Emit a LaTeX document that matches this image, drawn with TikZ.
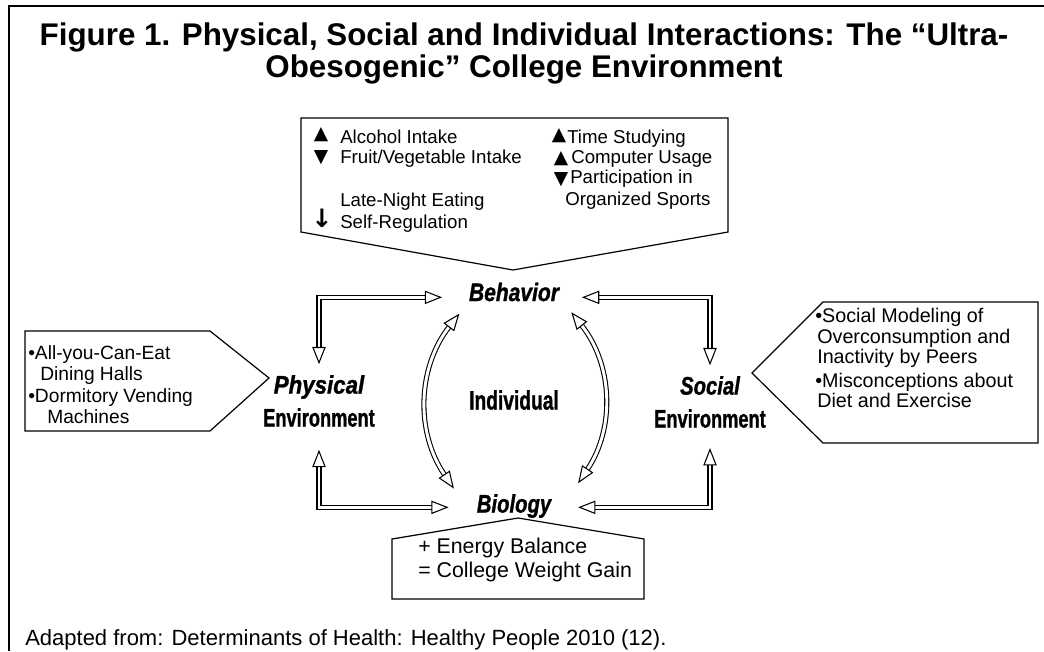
\documentclass[tikz,border=0pt]{standalone}
\usepackage{graphicx}
\usepackage{fontspec}
\setmainfont{Liberation Sans}
\newfontfamily\symfont{DejaVu Sans}
\newfontfamily\lblfont{Liberation Sans Bold}[ItalicFont=Liberation Sans Bold Italic,FakeBold=1.3]
\usepackage{tikz}
\usetikzlibrary{arrows.meta}
\newcommand{\narrowlbl}[2][0.8]{\scalebox{#1}[1]{#2}}

\begin{document}
\begin{tikzpicture}[x=0.75pt,y=0.75pt,yscale=-1,xscale=1,
  lbl/.style={inner sep=0pt,align=center,font=\lblfont\fontsize{19}{24.75}\selectfont},
  txt/.style={anchor=base west,inner sep=0pt,font=\fontsize{14}{16}\selectfont},
  sym/.style={inner sep=0pt,font=\symfont\fontsize{14}{14}\selectfont},
  ttl/.style={anchor=base,inner sep=0pt,font=\fontsize{23.5}{28}\selectfont\bfseries},
  callout/.style={line width=0.9pt,line join=miter},
  dbl/.style={double=white,double distance=2.2pt,line width=0.8pt,
    {Triangle[open,length=13pt,width=10pt,line width=0.8pt]}-{Triangle[open,length=13pt,width=10pt,line width=0.8pt]}}]
\useasboundingbox (0,0) rectangle (1044,651);

%Straight Lines
\draw [line width=1.4pt]  (1044,6) -- (9,6) -- (9,651) ;

% Text Node
\draw (524,45) node [ttl] (title1) {Figure 1. Physical, Social and Individual Interactions: The “Ultra-};
% Text Node
\draw (524,77) node [ttl] (title2) {Obesogenic” College Environment};

%Shape: Pentagon
\draw [callout]  (301,118) -- (728,118) -- (728,232) -- (513,270) -- (301,232) -- cycle ;
%Shape: Pentagon
\draw [callout]  (25,331) -- (210,331) -- (269,378) -- (210,431) -- (25,431) -- cycle ;
%Shape: Pentagon
\draw [callout]  (823,302) -- (1038,302) -- (1038,443) -- (823,443) -- (752,373) -- cycle ;
%Shape: Pentagon
\draw [callout]  (518,518) -- (644,539) -- (644,599) -- (392,599) -- (392,539) -- cycle ;

% Text Node
\draw (321,135) node [sym] (up1) {▲};
% Text Node
\draw (321,158) node [sym] (dn1) {▼};
% Text Node
\draw (322,218) node [sym,font=\symfont\bfseries\fontsize{19}{19}\selectfont] (dn2) {↓};
% Text Node
\draw (340,143) node [txt] (alc) {Alcohol Intake};
% Text Node
\draw (340,163) node [txt] (fruit) {Fruit/Vegetable Intake};
% Text Node
\draw (340,206) node [txt] (late) {Late-Night Eating};
\begin{scope}
\clip (301,118) rectangle (728,231);
% Text Node
\draw (340,228) node [txt] (selfreg) {Self-Regulation};
\end{scope}
% Text Node
\draw (559,136) node [sym] (up2) {▲};
% Text Node
\draw (561,159) node [sym] (up3) {▲};
% Text Node
\draw (561,180) node [sym] (dn3) {▼};
% Text Node
\draw (567,143) node [txt] (time) {Time Studying};
% Text Node
\draw (571,163) node [txt] (comp) {Computer Usage};
% Text Node
\draw (570,183) node [txt] (part) {Participation in};
% Text Node
\draw (565,205) node [txt] (sports) {Organized Sports};

% Text Node
\draw (28,359) node [txt,font=\fontsize{14.4}{16}\selectfont] (allyou) {•All-you-Can-Eat};
% Text Node
\draw (40,380) node [txt,font=\fontsize{14.4}{16}\selectfont] (dining) {Dining Halls};
% Text Node
\draw (28,402) node [txt,font=\fontsize{14.4}{16}\selectfont] (dorm) {•Dormitory Vending};
% Text Node
\draw (47,423) node [txt,font=\fontsize{14.4}{16}\selectfont] (mach) {Machines};

% Text Node
\draw (815,322) node [txt,font=\fontsize{14.8}{16}\selectfont] (socmod) {•Social Modeling of};
% Text Node
\draw (817,343) node [txt,font=\fontsize{14.8}{16}\selectfont] (overc) {Overconsumption and};
% Text Node
\draw (817,363) node [txt,font=\fontsize{14.8}{16}\selectfont] (inact) {Inactivity by Peers};
% Text Node
\draw (815,387) node [txt,font=\fontsize{14.8}{16}\selectfont] (miscon) {•Misconceptions about};
% Text Node
\draw (817,407) node [txt,font=\fontsize{14.8}{16}\selectfont] (diet) {Diet and Exercise};

% Text Node
\draw (418,553) node [txt,font=\fontsize{16}{18}\selectfont] (energy) {+ Energy Balance};
% Text Node
\draw (418,577) node [txt,font=\fontsize{16}{18}\selectfont] (gain) {= College Weight Gain};

% Text Node
\draw (25,645) node [txt,font=\fontsize{16.5}{18}\selectfont] (adapted) {Adapted from: Determinants of Health: Healthy People 2010 (12).};

% Text Node
\draw (514,292) node [lbl] (beh) {\narrowlbl[0.83]{\itshape Behavior}};
% Text Node
\draw (514,506) node [lbl] (bio) {\narrowlbl{\itshape Biology}};
% Text Node
\draw (319,401) node [lbl] (phys) {\narrowlbl[0.88]{\itshape Physical}\\\narrowlbl[0.72]{Environment}};
% Text Node
\draw (710,402) node [lbl] (soc) {\narrowlbl[0.8]{\itshape Social}\\\narrowlbl[0.72]{Environment}};
% Text Node
\draw (514,400) node [lbl,font=\lblfont\fontsize{20}{24}\selectfont] (ind) {\narrowlbl[0.72]{Individual}};

%Straight Lines
\draw [dbl]  ([yshift=-8pt]phys.north) |- ([xshift=-20pt,yshift=4pt]beh.west) ;
%Straight Lines
\draw [dbl]  ([yshift=17pt]phys.south) |- ([xshift=-21pt,yshift=1pt]bio.west) ;
%Straight Lines
\draw [dbl]  ([yshift=-8pt]soc.north) |- ([xshift=17pt,yshift=4pt]beh.east) ;
%Straight Lines
\draw [dbl]  ([yshift=15pt]soc.south) |- ([xshift=20pt,yshift=1pt]bio.east) ;
%Curve Lines
\draw [dbl]  ([xshift=-7pt,yshift=9pt]beh.south west) to [bend left=36] ([xshift=-17pt,yshift=-4pt]bio.north west) ;
%Curve Lines
\draw [dbl]  ([xshift=9pt,yshift=8pt]beh.south east) to [bend right=36] ([xshift=20pt,yshift=-8pt]bio.north east) ;

\end{tikzpicture}
\end{document}
